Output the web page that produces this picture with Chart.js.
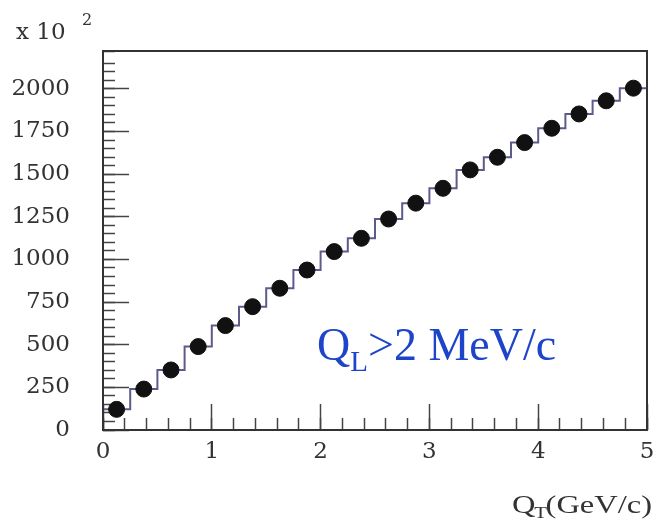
<!DOCTYPE html>
<html>
<head>
<meta charset="utf-8">
<script src="https://cdn.jsdelivr.net/npm/chart.js@4.4.1/dist/chart.umd.min.js"></script>
<style>
  html, body { margin: 0; padding: 0; background: #fff; }
  #wrap { width: 656px; height: 526px; position: relative; }
</style>
</head>
<body>
<div id="wrap"><canvas id="chart"></canvas></div>
<script>
// counts per 0.25 GeV/c bin of Q_T, in units of 10^2
const binEdges = [0, 0.25, 0.5, 0.75, 1, 1.25, 1.5, 1.75, 2, 2.25, 2.5, 2.75, 3, 3.25, 3.5, 3.75, 4, 4.25, 4.5, 4.75, 5];
const binCenters = [0.125, 0.375, 0.625, 0.875, 1.125, 1.375, 1.625, 1.875, 2.125, 2.375, 2.625, 2.875, 3.125, 3.375, 3.625, 3.875, 4.125, 4.375, 4.625, 4.875];
const dataCounts = [121, 240, 352, 489, 612, 723, 831, 938, 1046, 1124, 1237, 1330, 1417, 1525, 1599, 1685, 1769, 1853, 1930, 2004];
const histCounts = [121, 240, 352, 489, 612, 723, 831, 938, 1046, 1124, 1237, 1330, 1417, 1525, 1599, 1685, 1769, 1853, 1930, 2004];
const xMajorTicks = [0, 1, 2, 3, 4, 5];
const yMajorTicks = [0, 250, 500, 750, 1000, 1250, 1500, 1750, 2000];

const X_MAX = 5;
const Y_MAX = 2222;

// histogram outline: each bin edge carries its bin's content, last edge closes the last bin
const histPoints = binEdges.map((x, i) => ({ x, y: histCounts[Math.min(i, histCounts.length - 1)] }));
const dataPoints = binCenters.map((x, i) => ({ x, y: dataCounts[i] }));

const tickFont = { family: "'DejaVu Serif', serif", size: 23 };

// keep the plot frame where the layout padding puts it
function noPad(s) {
  s.paddingLeft = 0;
  s.paddingRight = 0;
  s.paddingTop = 0;
  s.paddingBottom = 0;
}

const decor = {
  id: "decor",
  afterDraw(chart) {
    const { ctx, chartArea: a } = chart;
    ctx.save();
    ctx.strokeStyle = "#333";
    ctx.lineWidth = 2;
    ctx.strokeRect(a.left, a.top, a.right - a.left, a.bottom - a.top);

    ctx.fillStyle = "#333";
    ctx.textBaseline = "alphabetic";
    ctx.font = "23px 'DejaVu Serif', serif";
    ctx.fillText("x 10", 16, 39);
    ctx.font = "16px 'DejaVu Serif', serif";
    ctx.fillText("2", 82, 25);

    // axis title Q_T(GeV/c)
    ctx.save();
    ctx.translate(512, 513);
    ctx.scale(1.3, 1);
    ctx.font = "25px 'Liberation Serif', serif";
    ctx.fillText("Q", 0, 0);
    let w = ctx.measureText("Q").width;
    ctx.font = "16px 'Liberation Serif', serif";
    ctx.fillText("T", w - 1, 5);
    w += ctx.measureText("T").width - 2;
    ctx.font = "25px 'Liberation Serif', serif";
    ctx.fillText("(GeV/c)", w, 0);
    ctx.restore();

    // cut label
    ctx.fillStyle = "#1d44c9";
    ctx.font = "46px 'Liberation Serif', serif";
    let x = 317;
    ctx.fillText("Q", x, 360);
    x += ctx.measureText("Q").width;
    ctx.font = "29px 'Liberation Serif', serif";
    ctx.fillText("L", x, 371);
    x += ctx.measureText("L").width;
    ctx.font = "46px 'Liberation Serif', serif";
    ctx.fillText(">2 MeV/c", x, 360);
    ctx.restore();
  }
};

new Chart(document.getElementById("chart"), {
  type: "scatter",
  data: {
    datasets: [
      {
        label: "Monte Carlo",
        type: "line",
        data: histPoints,
        stepped: true,
        borderColor: "#5d5b8c",
        borderWidth: 2,
        pointRadius: 0,
        fill: false,
        order: 2
      },
      {
        label: "Data",
        data: dataPoints,
        backgroundColor: "#111",
        borderColor: "#111",
        pointRadius: 8,
        order: 1
      }
    ]
  },
  options: {
    responsive: true,
    maintainAspectRatio: false,
    animation: false,
    layout: { padding: { left: 0, top: 51, right: 6, bottom: 0 } },
    plugins: {
      legend: { display: false },
      tooltip: { enabled: false }
    },
    scales: {
      x: {
        type: "linear",
        position: "bottom",
        weight: 1,
        min: 0,
        max: X_MAX,
        afterBuildTicks: (s) => { s.ticks = xMajorTicks.map((v) => ({ value: v })); },
        afterFit: (s) => { s.height = 96; noPad(s); },
        border: { display: false },
        grid: { drawOnChartArea: false, tickLength: -26, tickColor: "#444", tickWidth: 1.5 },
        ticks: { color: "#333", font: tickFont, padding: 34, maxRotation: 0, callback: (v) => String(v) }
      },
      xMinor: {
        type: "linear",
        position: "bottom",
        weight: 0,
        min: 0,
        max: X_MAX,
        ticks: { display: false, stepSize: 0.2 },
        afterFit: (s) => { s.height = 0; noPad(s); },
        border: { display: false },
        grid: { drawOnChartArea: false, tickLength: -12, tickColor: "#444", tickWidth: 1.5 }
      },
      y: {
        type: "linear",
        position: "left",
        weight: 1,
        min: 0,
        max: Y_MAX,
        afterBuildTicks: (s) => { s.ticks = yMajorTicks.map((v) => ({ value: v })); },
        afterFit: (s) => { s.width = 103; noPad(s); },
        border: { display: false },
        grid: { drawOnChartArea: false, tickLength: -26, tickColor: "#444", tickWidth: 1.5 },
        ticks: { color: "#333", font: tickFont, padding: 59, callback: (v) => String(v) }
      },
      yMinor: {
        type: "linear",
        position: "left",
        weight: 0,
        min: 0,
        max: Y_MAX,
        ticks: { display: false, stepSize: 50 },
        afterFit: (s) => { s.width = 0; noPad(s); },
        border: { display: false },
        grid: { drawOnChartArea: false, tickLength: -12, tickColor: "#444", tickWidth: 1.5 }
      }
    }
  },
  plugins: [decor]
});
</script>
</body>
</html>
